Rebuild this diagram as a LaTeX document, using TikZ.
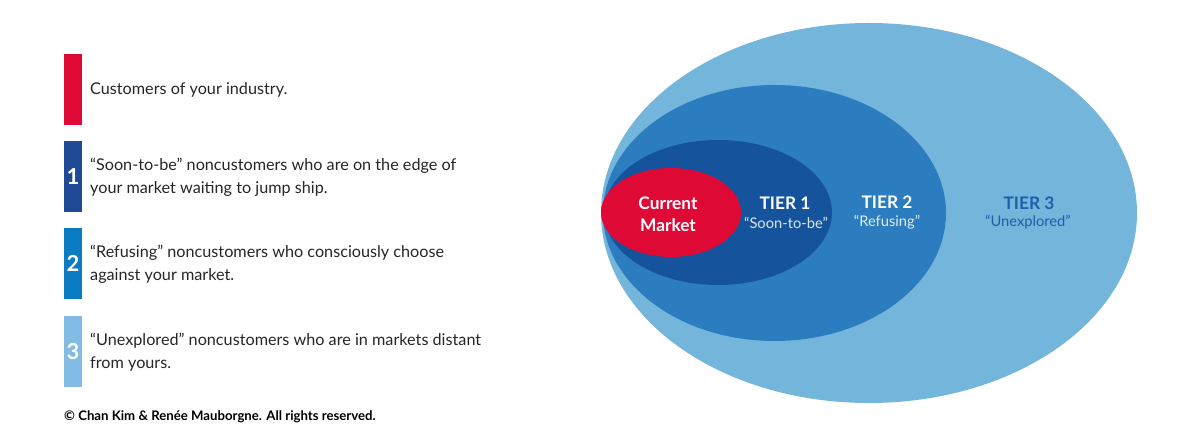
\documentclass[tikz,border=0pt]{standalone}
\usepackage{fontspec}
\setmainfont{Lato}
\definecolor{redmarket}{HTML}{DE0A35}
\definecolor{tierone}{HTML}{15549C}
\definecolor{tiertwo}{HTML}{2B7DBF}
\definecolor{tierthree}{HTML}{74B5DC}
\definecolor{barone}{HTML}{1F4B96}
\definecolor{bartwo}{HTML}{0B7CC1}
\definecolor{barthree}{HTML}{82BBE3}
\definecolor{tiertext}{HTML}{1F5FA8}
\tikzset{
	legendbar/.style={minimum width=18pt,minimum height=71pt,inner sep=0pt,text=white,font=\fontsize{22}{22}\selectfont\bfseries},
	legendtext/.style={anchor=west,inner sep=0pt,align=left,text=black!85,font=\fontsize{16.2}{23}\selectfont},
	tiername/.style={inner sep=0pt,font=\fontsize{17.3}{22}\selectfont\bfseries},
	tiernote/.style={inner sep=0pt,font=\fontsize{14.7}{16}\selectfont},
}
\begin{document}
\begin{tikzpicture}[x=1pt,y=-1pt]
	\useasboundingbox (0,0) rectangle (1200,446);

	\fill[tierthree] (869,213) ellipse[x radius=268,y radius=190];
	\fill[tiertwo] (774.5,213) ellipse[x radius=171.5,y radius=128];
	\fill[tierone] (718,212.5) ellipse[x radius=114,y radius=72.5];
	\fill[redmarket] (671,212.5) ellipse[x radius=70,y radius=44.5];

	\node[tiername,text=white,align=center] (current) at (668,214.5) {Current\\Market};
	\node[tiername,text=white] (tier1) at (785,203.5) {TIER 1};
	\node[tiernote,text=white!85!tierone] (soon) at (786,222.5) {“Soon-to-be”};
	\node[tiername,text=white] (tier2) at (887,202.5) {TIER 2};
	\node[tiernote,text=white!85!tiertwo] (refusing) at (887,222.5) {“Refusing”};
	\node[tiername,text=tiertext] (tier3) at (1029,203.5) {TIER 3};
	\node[tiernote,text=tiertext] (unexplored) at (1028,222.5) {“Unexplored”};

	\node[legendbar,fill=redmarket] (bar0) at (73,89.5) {};
	\node[legendbar,fill=barone] (bar1) at (73,176.5) {1};
	\node[legendbar,fill=bartwo] (bar2) at (73,263.5) {2};
	\node[legendbar,fill=barthree] (bar3) at (73,351.5) {3};

	\node[legendtext] (text0) at (90,90) {Customers of your industry.};
	\node[legendtext] (text1) at (90,177) {“Soon-to-be” noncustomers who are on the edge of\\your market waiting to jump ship.};
	\node[legendtext] (text2) at (90,264) {“Refusing” noncustomers who consciously choose\\against your market.};
	\node[legendtext] (text3) at (90,352) {“Unexplored” noncustomers who are in markets distant\\from yours.};

	\node[anchor=west,inner sep=0pt,font=\fontsize{13.2}{14}\selectfont\bfseries] (rights) at (64,416.5) {© Chan Kim \& Renée Mauborgne. All rights reserved.};
\end{tikzpicture}
\end{document}
